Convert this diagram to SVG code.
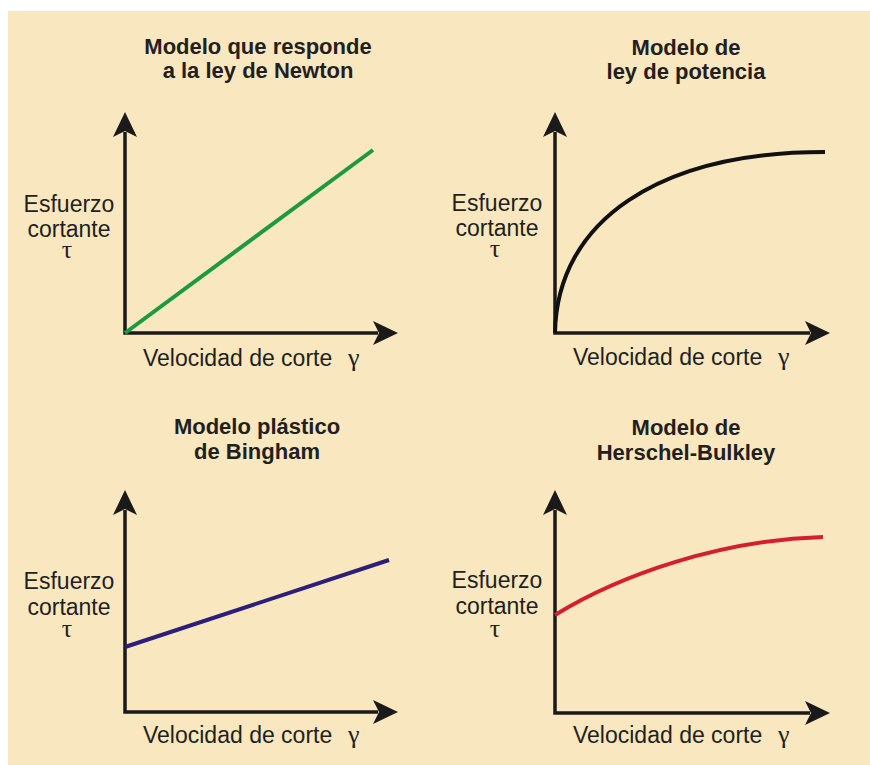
<svg xmlns="http://www.w3.org/2000/svg" width="870" height="765" viewBox="0 0 870 765">
  <style>
    .title { font-family: "Liberation Sans", Arial, sans-serif; font-weight: bold; font-size: 22px; fill: #231f20; text-anchor: middle; }
    .lab { font-family: "Liberation Sans", Arial, sans-serif; font-size: 23px; fill: #231f20; }
    .mid { text-anchor: middle; }
    .greek { font-family: "Liberation Serif", "Times New Roman", serif; font-size: 26px; }
    .axis { fill: none; stroke: #1a1a1a; stroke-width: 3.5; stroke-linejoin: miter; marker-start: url(#ah); marker-end: url(#ah); }
    .curve { fill: none; stroke-width: 4; stroke-linecap: butt; }
  </style>
  <defs>
    <marker id="ah" markerUnits="userSpaceOnUse" markerWidth="25" markerHeight="24" viewBox="0 0 25 24" refX="5" refY="12" orient="auto-start-reverse">
      <path d="M0,0 L25,12 L0,24 L6,12 Z" fill="#1a1a1a"/>
    </marker>
  </defs>
  <rect x="0" y="0" width="870" height="765" fill="#ffffff"/>
  <rect x="8" y="11" width="862" height="754" fill="#f8e7bf"/>

  <g id="connectors">
    <path class="axis" d="M125,132 L125,333 L378,333"/>
    <path class="axis" d="M555,132 L555,333 L810,333"/>
    <path class="axis" d="M125,510 L125,712 L378,712"/>
    <path class="axis" d="M555,510 L555,713 L810,713"/>
  </g>

  <g id="newton">
    <text class="title" x="258" y="54">Modelo que responde</text>
    <text class="title" x="258" y="78">a la ley de Newton</text>
    <text class="lab mid" x="69" y="212">Esfuerzo<tspan x="69" y="237">cortante</tspan><tspan class="greek" x="67" y="258">τ</tspan></text>
    <text class="lab" x="143" y="366">Velocidad de corte<tspan class="greek" x="348">γ</tspan></text>
    <path class="curve" d="M125,333 L373,150" stroke="#1d9a3f"/>
  </g>

  <g id="potencia">
    <text class="title" x="686" y="55">Modelo de</text>
    <text class="title" x="686" y="79">ley de potencia</text>
    <text class="lab mid" x="497" y="211">Esfuerzo<tspan x="497" y="236">cortante</tspan><tspan class="greek" x="495" y="257">τ</tspan></text>
    <text class="lab" x="573" y="365">Velocidad de corte<tspan class="greek" x="778">γ</tspan></text>
    <path class="curve" d="M555,333 C557,220 660,152 825,152" stroke="#111111"/>
  </g>

  <g id="bingham">
    <text class="title" x="257" y="434">Modelo plástico</text>
    <text class="title" x="257" y="459">de Bingham</text>
    <text class="lab mid" x="69" y="589">Esfuerzo<tspan x="69" y="615">cortante</tspan><tspan class="greek" x="67" y="637">τ</tspan></text>
    <text class="lab" x="143" y="743">Velocidad de corte<tspan class="greek" x="348">γ</tspan></text>
    <path class="curve" d="M125,647 L389,560" stroke="#2c1f7a"/>
  </g>

  <g id="herschel">
    <text class="title" x="686" y="435">Modelo de</text>
    <text class="title" x="686" y="460">Herschel-Bulkley</text>
    <text class="lab mid" x="497" y="588">Esfuerzo<tspan x="497" y="614">cortante</tspan><tspan class="greek" x="495" y="637">τ</tspan></text>
    <text class="lab" x="573" y="743">Velocidad de corte<tspan class="greek" x="778">γ</tspan></text>
    <path class="curve" d="M555,615 C620,575 720,540 823,537" stroke="#d4202e"/>
  </g>
</svg>
